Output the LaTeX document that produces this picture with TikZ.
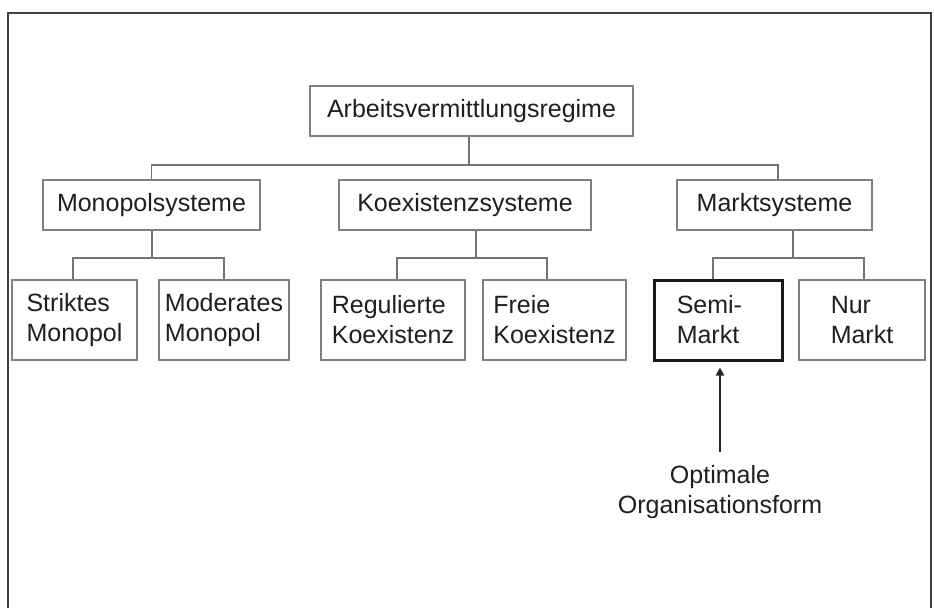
\documentclass[tikz,border=0pt]{standalone}
\usepackage{fontspec}
\setmainfont{Liberation Sans}
\usetikzlibrary{arrows.meta}
\begin{document}
\begin{tikzpicture}[x=1pt,y=-1pt,
  font=\fontsize{25}{30}\selectfont,
  box/.style={draw=black!50,line width=1.4pt,inner sep=0pt,
    text=black!88,minimum height=50pt},
  leaf/.style={box,minimum height=80pt,align=left},
  chosen/.style={leaf,draw=black!90,line width=3pt},
  link/.style={draw=black!55,line width=1.4pt},
  pointer/.style={draw=black!85,line width=2pt,-{Triangle[length=8pt,width=8pt]}},
  frameline/.style={draw=black!75,line width=2pt}]
\useasboundingbox (0,0) rectangle (934,608);
\fill[white] (0,0) rectangle (934,608);
% open frame around the chart
\draw[frameline] (7.5,608) -- (7.5,12.5) -- (930.5,12.5) -- (930.5,608);

% root
\node[box,minimum width=323pt] (root) at (471.5,111) {Arbeitsvermittlungsregime};

% system families
\node[box,minimum width=217pt] (mono) at (151.5,205) {Monopolsysteme};
\node[box,minimum width=252pt] (koex) at (465,205) {Koexistenzsysteme};
\node[box,minimum width=195pt] (markt) at (774.5,205) {Marktsysteme};

% individual forms
\node[leaf,minimum width=125pt] (strikt) at (74.5,320) {Striktes\\Monopol};
\node[leaf,minimum width=130pt] (moder) at (224,320) {Moderates\\Monopol};
\node[leaf,minimum width=144pt] (regul) at (393,320) {Regulierte\\Koexistenz};
\node[leaf,minimum width=143pt] (freie) at (554.5,320) {Freie\\Koexistenz};
\node[chosen,minimum width=128pt] (semi) at (718,320) {Semi-\\Markt\hspace*{20pt}};
\node[leaf,minimum width=126pt] (nur) at (862,320) {Nur\\Markt};

% annotation
\node[align=center,text=black!88] (opt) at (720,492.5) {Optimale\\Organisationsform};

% junction points
\coordinate (j0) at (469,165);
\coordinate (j1) at (152,258);
\coordinate (j2) at (476,258);
\coordinate (j3) at (793,258);

% root to families
\draw[link] ([xshift=-2.5pt]root.south) -- (j0);
\draw[link] (mono.north) |- (j0) -| ([xshift=3.5pt]markt.north);

% families to forms
\draw[link] (mono.south -| j1) -- (j1);
\draw[link] ([xshift=-1.5pt]strikt.north) |- (j1) -| (moder.north);
\draw[link] (koex.south -| j2) -- (j2);
\draw[link] ([xshift=4pt]regul.north) |- (j2) -| ([xshift=-7.5pt]freie.north);
\draw[link] (markt.south -| j3) -- (j3);
\draw[link] ([xshift=-5pt]semi.north) |- (j3) -| ([xshift=2pt]nur.north);

% pointer to the optimal form
\coordinate (tail) at (720,452);
\draw[pointer] (tail) -- ([xshift=2pt,yshift=-6pt]semi.south);
\end{tikzpicture}
\end{document}
